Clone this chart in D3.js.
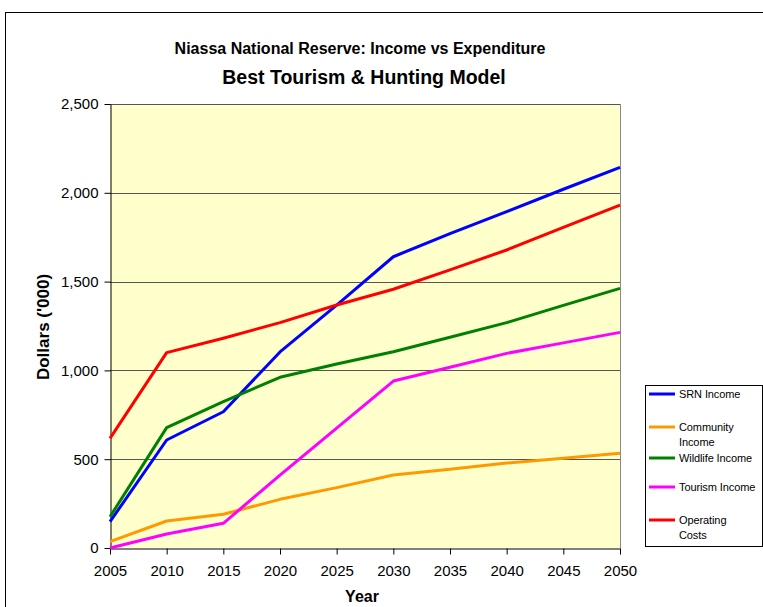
<!DOCTYPE html>
<html><head><meta charset="utf-8">
<script src="https://cdn.jsdelivr.net/npm/d3@7"></script>
<style>body{margin:0;background:#fff}svg{display:block;font-family:"Liberation Sans",Arial,sans-serif}</style>
</head><body>
<script>
const years = [2005,2010,2015,2020,2025,2030,2035,2040,2045,2050];
const srnIncome = [148,608,767,1104,1368,1640,1770,1894,2020,2143];
const communityIncome = [36,152,190,274,340,411,444,478,506,533];
const wildlifeIncome = [176,678,824,961,1036,1105,1187,1269,1366,1462];
const tourismIncome = [0,79,139,410,675,940,1018,1096,1155,1214];
const operatingCosts = [617,1100,1181,1269,1368,1457,1566,1678,1805,1931];
const yTicks = [0,500,1000,1500,2000,2500];
const seriesNames = ["SRN Income","Community Income","Wildlife Income","Tourism Income","Operating Costs"];
const seriesColors = ["#0000FF","#FF9900","#008000","#FF00FF","#FF0000"];
const seriesValues = [srnIncome,communityIncome,wildlifeIncome,tourismIncome,operatingCosts];

const W=763,H=607;
const svg=d3.select("body").append("svg").attr("width",W).attr("height",H);
svg.append("rect").attr("x",5.5).attr("y",12.5).attr("width",W+10).attr("height",H+10)
  .attr("fill","#fff").attr("stroke","#000").attr("stroke-width",1);

const L=110,R=620,T=104,B=548;
const x=d3.scaleLinear().domain([2005,2050]).range([L,R]);
const y=d3.scaleLinear().domain([0,2500]).range([B,T]);

svg.append("rect").attr("x",L).attr("y",T).attr("width",R-L).attr("height",B-T).attr("fill","#FFFFCC");
svg.append("g").selectAll("line").data(yTicks.filter(d=>d>0)).join("line")
  .attr("x1",L).attr("x2",R).attr("y1",d=>Math.round(y(d))+0.5).attr("y2",d=>Math.round(y(d))+0.5)
  .attr("stroke","#555").attr("stroke-width",1);
svg.append("line").attr("x1",R+0.5).attr("x2",R+0.5).attr("y1",T).attr("y2",B).attr("stroke","#888");

const yAxis=svg.append("g").attr("transform",`translate(${L+0.5},0)`)
  .call(d3.axisLeft(y).tickValues(yTicks).tickFormat(d3.format(",")).tickSize(6).tickSizeOuter(0));
const xAxis=svg.append("g").attr("transform",`translate(0,${B+0.5})`)
  .call(d3.axisBottom(x).tickValues(years).tickFormat(d3.format("d")).tickSize(6).tickSizeOuter(0));
[yAxis,xAxis].forEach(a=>{a.selectAll("path,line").attr("stroke","#000");
  a.selectAll("text").attr("font-size",15).attr("font-family","Liberation Sans, Arial, sans-serif").attr("fill","#000");});
yAxis.selectAll("text").attr("x",-12);
xAxis.selectAll("text").attr("dy","1.25em");

const line=d3.line().x((d,i)=>x(years[i])).y(d=>y(d));
svg.append("g").selectAll("path").data(seriesValues).join("path")
  .attr("d",d=>line(d)).attr("fill","none").attr("stroke",(d,i)=>seriesColors[i])
  .attr("stroke-width",3).attr("stroke-linejoin","round");

svg.append("text").attr("x",360).attr("y",54).attr("text-anchor","middle")
  .attr("font-size",16).attr("font-weight","bold").text("Niassa National Reserve: Income vs Expenditure");
svg.append("text").attr("x",364).attr("y",84).attr("text-anchor","middle")
  .attr("font-size",19.5).attr("font-weight","bold").text("Best Tourism & Hunting Model");
svg.append("text").attr("transform","translate(49,327) rotate(-90)").attr("text-anchor","middle")
  .attr("font-size",17).attr("font-weight","bold").text("Dollars ('000)");
svg.append("text").attr("x",362).attr("y",602).attr("text-anchor","middle")
  .attr("font-size",16).attr("font-weight","bold").text("Year");

// legend
const lg=svg.append("g");
lg.append("rect").attr("x",645.5).attr("y",385.5).attr("width",117).attr("height",161)
  .attr("fill","#fff").attr("stroke","#000");
const legendRows=[["SRN Income"],["Community","Income"],["Wildlife Income"],["Tourism Income"],["Operating","Costs"]];
const legendY=[394,427,458,487,520];
legendRows.forEach((rows,i)=>{
  lg.append("line").attr("x1",649).attr("x2",675).attr("y1",legendY[i]).attr("y2",legendY[i])
    .attr("stroke",seriesColors[i]).attr("stroke-width",3);
  rows.forEach((t,j)=>lg.append("text").attr("x",679).attr("y",legendY[i]+4+j*15)
    .attr("font-size",11).attr("letter-spacing","-0.1").text(t));
});
</script>
</body></html>
